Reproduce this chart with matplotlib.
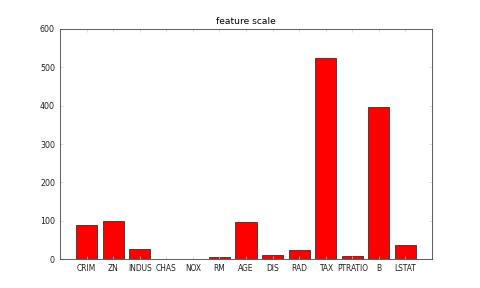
import matplotlib
matplotlib.use('Agg')
import matplotlib.pyplot as plt
import numpy as np

# feature ranges (max - min)
features = ['CRIM', 'ZN', 'INDUS', 'CHAS', 'NOX', 'RM', 'AGE', 'DIS',
            'RAD', 'TAX', 'PTRATIO', 'B', 'LSTAT']
scale = [88.97, 100.0, 27.28, 1.0, 0.486, 5.22, 97.1, 11.0,
         23.0, 524.0, 9.4, 396.58, 36.24]

plt.rcParams['font.family'] = 'DejaVu Sans'

fig, ax = plt.subplots(figsize=(8, 4.8), dpi=60)
fig.subplots_adjust(left=0.125, right=0.9, bottom=0.1, top=0.9)

x = np.arange(len(features))
ax.bar(x, scale, width=0.8, align='center', color='red',
       edgecolor='#333333', linewidth=1.0)

ax.set_xticks(x)
ax.set_xticklabels(features, fontsize=9)
ax.set_xlim(-1, len(features))
ax.set_ylim(0, 600)
ax.set_yticks(np.arange(0, 601, 100))
ax.tick_params(axis='y', labelsize=9.5)
ax.set_title('feature scale', fontsize=11)

ax.tick_params(direction='in', top=True, right=True, length=4,
               color='#cccccc', labelcolor='#222222', pad=6)
for s in ax.spines.values():
    s.set_color('#444444')
    s.set_linewidth(1.0)

fig.savefig('out.png', dpi=60)
